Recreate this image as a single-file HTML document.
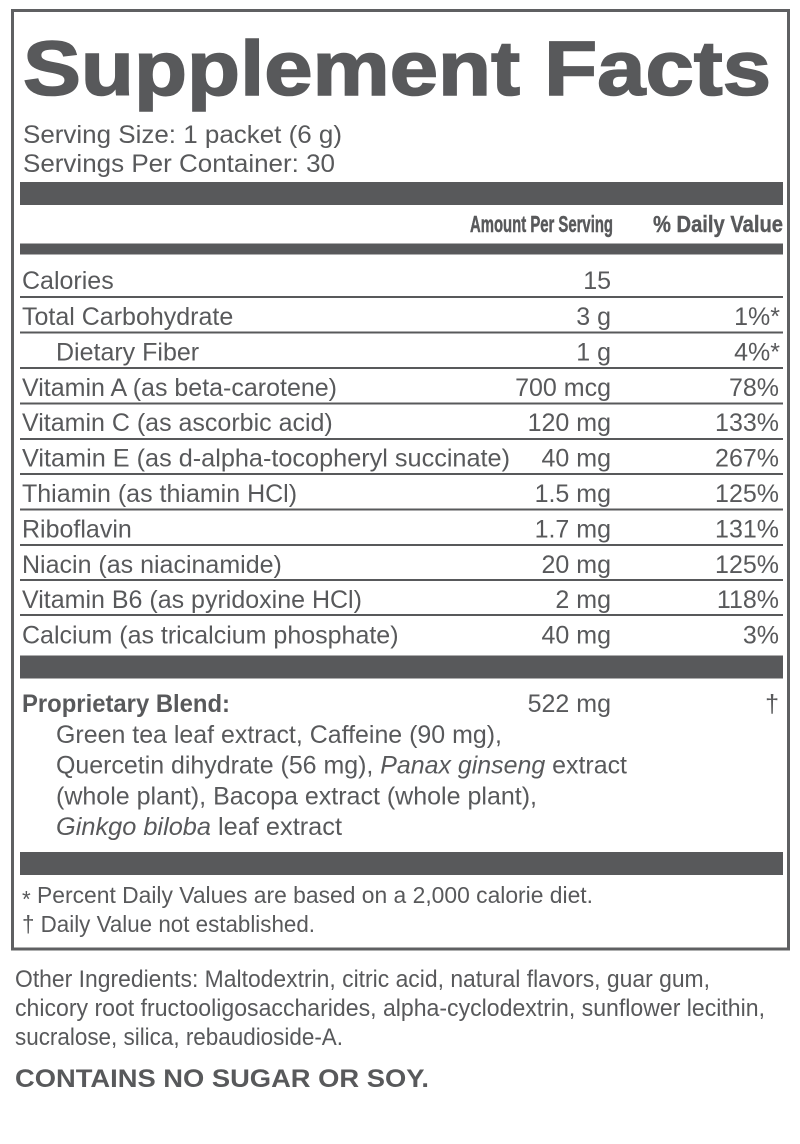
<!DOCTYPE html>
<html>
<head>
<meta charset="utf-8">
<style>
html,body{margin:0;padding:0;background:#fff;}
svg{display:block;}
text{font-family:"Liberation Sans",Arial,sans-serif;fill:#58595b;}
.r{font-size:25px;}
.b{font-weight:bold;}
.e{text-anchor:end;}
</style>
</head>
<body>
<svg width="800" height="1144" viewBox="0 0 800 1144" xmlns="http://www.w3.org/2000/svg">
<rect x="0" y="0" width="800" height="1144" fill="#fff"/>
<!-- outer border -->
<rect x="12.5" y="10.5" width="776" height="938.5" fill="none" stroke="#5f6062" stroke-width="3"/>

<!-- title -->
<text x="23" y="95" font-size="77" font-weight="bold" textLength="748" lengthAdjust="spacingAndGlyphs" stroke="#58595b" stroke-width="1.6">Supplement Facts</text>

<text class="r" x="23" y="143" textLength="319" lengthAdjust="spacingAndGlyphs">Serving Size: 1 packet (6 g)</text>
<text class="r" x="23" y="172" textLength="312" lengthAdjust="spacingAndGlyphs">Servings Per Container: 30</text>

<!-- bar 1 -->
<rect x="20" y="182" width="763" height="23" fill="#58595b"/>
<text x="470" y="232" font-size="23.5" font-weight="bold" textLength="143" lengthAdjust="spacingAndGlyphs" stroke="#58595b" stroke-width="0.5">Amount Per Serving</text>
<text x="653" y="232" font-size="23.5" font-weight="bold" textLength="130" lengthAdjust="spacingAndGlyphs" stroke="#58595b" stroke-width="0.4">% Daily Value</text>
<!-- bar 2 -->
<rect x="20" y="243.5" width="763" height="11" fill="#58595b"/>

<!-- row lines -->
<g fill="#58595b">
<rect x="20" y="296" width="763" height="2"/>
<rect x="20" y="331.5" width="763" height="2"/>
<rect x="20" y="367" width="763" height="2"/>
<rect x="20" y="402.5" width="763" height="2"/>
<rect x="20" y="438" width="763" height="2"/>
<rect x="20" y="473" width="763" height="2"/>
<rect x="20" y="508.5" width="763" height="2"/>
<rect x="20" y="544" width="763" height="2"/>
<rect x="20" y="579" width="763" height="2"/>
<rect x="20" y="614" width="763" height="2"/>
</g>

<!-- rows -->
<text class="r" x="22" y="289">Calories</text>
<text class="r e" x="611" y="289">15</text>

<text class="r" x="22" y="325">Total Carbohydrate</text>
<text class="r e" x="611" y="325">3 g</text>
<text class="r e" x="780" y="325">1%*</text>

<text class="r" x="56" y="360.5">Dietary Fiber</text>
<text class="r e" x="611" y="360.5">1 g</text>
<text class="r e" x="780" y="360.5">4%*</text>

<text class="r" x="22" y="396">Vitamin A (as beta-carotene)</text>
<text class="r e" x="611" y="396">700 mcg</text>
<text class="r e" x="779" y="396">78%</text>

<text class="r" x="22" y="431">Vitamin C (as ascorbic acid)</text>
<text class="r e" x="611" y="431">120 mg</text>
<text class="r e" x="779" y="431">133%</text>

<text class="r" x="22" y="466.5" textLength="488" lengthAdjust="spacingAndGlyphs">Vitamin E (as d-alpha-tocopheryl succinate)</text>
<text class="r e" x="611" y="466.5">40 mg</text>
<text class="r e" x="779" y="466.5">267%</text>

<text class="r" x="22" y="502">Thiamin (as thiamin HCl)</text>
<text class="r e" x="611" y="502">1.5 mg</text>
<text class="r e" x="779" y="502">125%</text>

<text class="r" x="22" y="537.5">Riboflavin</text>
<text class="r e" x="611" y="537.5">1.7 mg</text>
<text class="r e" x="779" y="537.5">131%</text>

<text class="r" x="22" y="573">Niacin (as niacinamide)</text>
<text class="r e" x="611" y="573">20 mg</text>
<text class="r e" x="779" y="573">125%</text>

<text class="r" x="22" y="608">Vitamin B6 (as pyridoxine HCl)</text>
<text class="r e" x="611" y="608">2 mg</text>
<text class="r e" x="779" y="608">118%</text>

<text class="r" x="22" y="643.5">Calcium (as tricalcium phosphate)</text>
<text class="r e" x="611" y="643.5">40 mg</text>
<text class="r e" x="779" y="643.5">3%</text>

<!-- bar 3 -->
<rect x="20" y="655.5" width="763" height="23" fill="#58595b"/>

<text class="r b" x="22" y="712" textLength="208" lengthAdjust="spacingAndGlyphs">Proprietary Blend:</text>
<text class="r e" x="611" y="712">522 mg</text>
<text class="r e" x="779" y="712">†</text>

<text class="r" x="56" y="743" textLength="446" lengthAdjust="spacingAndGlyphs">Green tea leaf extract, Caffeine (90 mg),</text>
<text class="r" x="56" y="773.5" textLength="571" lengthAdjust="spacingAndGlyphs">Quercetin dihydrate (56 mg), <tspan font-style="italic">Panax ginseng</tspan> extract</text>
<text class="r" x="56" y="804.5" textLength="481" lengthAdjust="spacingAndGlyphs">(whole plant), Bacopa extract (whole plant),</text>
<text class="r" x="56" y="835" textLength="286" lengthAdjust="spacingAndGlyphs"><tspan font-style="italic">Ginkgo biloba</tspan> leaf extract</text>

<!-- bar 4 -->
<rect x="20" y="852" width="763" height="23" fill="#58595b"/>

<text x="22" y="903" font-size="23.5" textLength="571" lengthAdjust="spacingAndGlyphs"><tspan dy="4" font-size="23">*</tspan><tspan dy="-4"> Percent Daily Values are based on a 2,000 calorie diet.</tspan></text>
<text x="22" y="932" font-size="23.5" textLength="293" lengthAdjust="spacingAndGlyphs">† Daily Value not established.</text>

<!-- other ingredients -->
<text x="15" y="987" font-size="24.5" textLength="695" lengthAdjust="spacingAndGlyphs">Other Ingredients: Maltodextrin, citric acid, natural flavors, guar gum,</text>
<text x="15" y="1016" font-size="24.5" textLength="750" lengthAdjust="spacingAndGlyphs">chicory root fructooligosaccharides, alpha-cyclodextrin, sunflower lecithin,</text>
<text x="15" y="1045" font-size="24.5" textLength="328" lengthAdjust="spacingAndGlyphs">sucralose, silica, rebaudioside-A.</text>

<text x="15" y="1087" font-size="25" font-weight="bold" textLength="414" lengthAdjust="spacingAndGlyphs">CONTAINS NO SUGAR OR SOY.</text>
</svg>
</body>
</html>
